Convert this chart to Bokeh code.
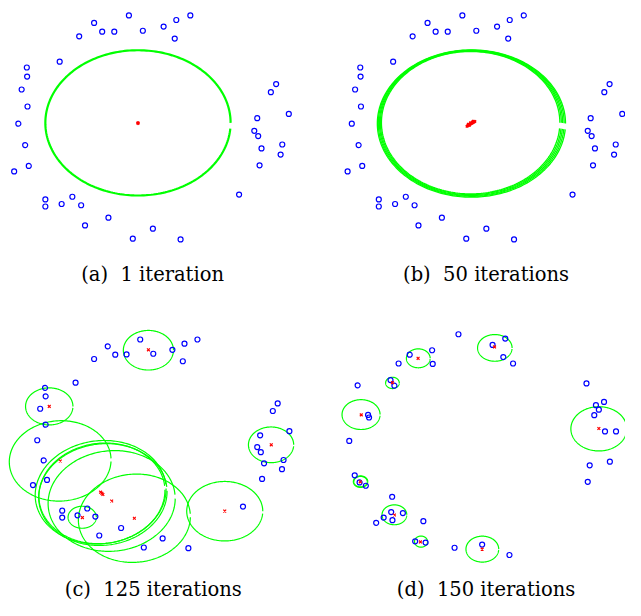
import numpy as np
from bokeh.plotting import figure
from bokeh.models import Range1d, Label
from bokeh.layouts import column, row
from bokeh.embed import file_html
from bokeh.resources import INLINE

# ---------------- data (image units, y downward) -------------
# panels (a) and (b): the same 40 points
ab_x = [131.7, 194.7, 96.0, 180.3, 167.3, 104.3, 116.7, 146.0, 80.7, 178.7,
        60.7, 27.0, 27.3, 21.7, 27.7, 18.3, 25.3, 29.0, 14.0,
        282.7, 277.3, 295.7, 263.3, 260.3, 264.3, 289.0, 267.7, 287.3, 265.7, 244.7,
        46.0, 46.0, 73.7, 62.7, 82.7, 110.7, 86.7, 156.3, 135.7, 184.7]
ab_y = [15.3, 15.3, 23.0, 20.0, 26.7, 32.0, 32.0, 31.0, 36.7, 39.0,
        62.7, 68.7, 78.0, 91.3, 108.7, 126.3, 148.3, 169.7, 175.3,
        85.7, 94.0, 116.3, 120.7, 133.7, 139.0, 147.7, 151.7, 158.0, 169.0, 199.0,
        204.0, 211.3, 201.3, 208.7, 210.0, 222.7, 230.7, 234.0, 244.3, 245.0]

# (a) 1 iteration: one centre and one ellipse (cx, cy, rx, ry, angle)
a_cx = [141.0]
a_cy = [125.7]
a_ell = [(141.0, 125.5, 95.0, 74.5, 0.0)]

# (b) 50 iterations: drifting centres and a band of ellipses
b_cx = [136.5, 137.5, 138.5, 139.0, 139.5, 140.5, 141.5, 142.0, 142.5, 143.5, 144.5,
        137.8, 140.0, 142.8]
b_cy = [129.0, 128.2, 127.6, 128.0, 127.0, 126.4, 125.9, 124.8, 125.2, 124.6, 124.0,
        127.0, 125.5, 123.8]
b_ell = [(140.2, 125.3, 91.5, 73.0, 0.0),
         (140.4, 125.5, 92.8, 73.6, 0.0),
         (140.6, 125.7, 94.0, 74.3, 0.0),
         (140.8, 125.9, 95.3, 74.9, 0.0),
         (141.0, 126.2, 96.5, 75.5, 0.0)]

# (c) 125 iterations
c_x = [143.3, 202.0, 110.0, 188.7, 176.3, 117.7, 129.3, 156.7, 96.0, 187.0,
       77.0, 45.7, 46.3, 40.7, 46.3, 37.7, 44.3, 47.7, 33.3,
       284.3, 279.3, 296.3, 266.3, 263.3, 267.0, 290.3, 270.3, 288.7, 268.3, 248.7,
       63.3, 63.3, 89.0, 79.0, 97.3, 123.7, 101.3, 166.3, 147.0, 192.7]
c_y = [347.7, 347.7, 354.7, 352.0, 358.3, 363.3, 363.0, 362.3, 367.7, 370.0,
       392.0, 397.3, 406.0, 418.7, 435.0, 451.0, 471.7, 491.7, 497.0,
       413.3, 421.0, 441.7, 446.0, 458.0, 463.3, 471.3, 474.7, 480.7, 490.7, 519.0,
       523.3, 530.3, 521.0, 528.0, 529.3, 541.0, 548.7, 551.7, 561.0, 561.7]
c_cx = [151.7, 50.0, 61.3, 277.7, 102.7, 105.0, 104.0, 114.0, 137.3, 84.0, 230.0]
c_cy = [358.3, 416.3, 472.3, 455.7, 504.3, 506.7, 505.5, 513.3, 531.0, 530.3, 523.7]
c_ell = [(151.7, 358.7, 25.7, 20.3, 0.0),
         (50.0, 416.3, 24.3, 19.0, 0.0),
         (61.2, 472.2, 52.2, 41.2, -0.05),
         (277.5, 455.7, 23.2, 18.3, 0.0),
         (102.7, 504.3, 67.3, 52.8, -0.12),
         (105.0, 506.7, 66.0, 52.0, -0.12),
         (104.0, 505.5, 64.8, 51.4, -0.12),
         (114.0, 513.3, 65.3, 51.5, -0.10),
         (137.3, 531.0, 57.5, 45.2, -0.08),
         (83.8, 530.0, 14.5, 11.3, 0.0),
         (230.0, 523.8, 39.0, 30.5, 0.0)]

# (d) 150 iterations
d_x = [469.7, 517.7, 504.7, 442.7, 419.7, 515.7, 443.3, 408.3, 525.7, 400.0,
       404.0, 366.3, 601.0, 619.0, 610.7, 613.7, 609.0, 377.0, 378.0, 620.0,
       631.3, 357.7, 625.0, 604.3, 602.3, 363.3, 368.3, 374.7, 401.7, 400.7,
       412.7, 393.0, 402.0, 385.3, 433.7, 425.3, 436.0, 465.7, 494.0, 522.0]
d_y = [342.3, 346.7, 353.3, 358.7, 363.3, 365.7, 372.7, 372.3, 372.3, 389.3,
       395.0, 394.7, 392.7, 411.7, 415.0, 419.7, 425.3, 425.0, 427.7, 442.0,
       442.0, 451.7, 473.0, 476.7, 493.7, 487.0, 494.3, 497.7, 509.0, 524.7,
       525.7, 530.3, 533.0, 535.7, 534.0, 554.7, 556.0, 561.3, 558.0, 568.7]
d_cx = [506.7, 428.3, 402.0, 370.0, 613.7, 369.0, 404.0, 430.7, 494.0]
d_cy = [355.3, 367.0, 392.0, 425.0, 439.0, 493.7, 527.7, 555.3, 562.7]
d_ell = [(507.0, 356.3, 17.7, 13.7, 0.0),
         (428.5, 367.0, 12.2, 9.7, 0.0),
         (402.0, 392.2, 7.0, 5.8, 0.0),
         (369.8, 424.7, 19.5, 15.3, 0.0),
         (613.7, 439.3, 28.7, 22.7, 0.0),
         (369.3, 493.5, 7.4, 5.9, 0.0),
         (369.3, 493.5, 6.9, 5.4, 0.0),
         (404.0, 527.5, 12.7, 10.2, 0.0),
         (431.3, 555.0, 6.7, 5.7, 0.0),
         (494.2, 562.7, 16.8, 13.3, 0.0)]

captions = ["(a)\u00a0 1 iteration", "(b)\u00a0 50 iterations",
            "(c)\u00a0 125 iterations", "(d)\u00a0 150 iterations"]

# ---------------- layout ----------------
S = 0.975                  # reference -> page scale (fits the 625x600 area)
LEFT_W, RIGHT_W = 312, 313
TOP_H, BOT_H = 298, 302
GREEN = "#00ff00"
BLUE = "#0000ff"
RED = "#ff0000"
FONT = "DejaVu Serif"


def make_fig(w, h, x0, y0):
    p = figure(width=w, height=h, output_backend="svg", toolbar_location=None,
               x_range=Range1d(x0, x0 + w / S), y_range=Range1d(y0 + h / S, y0),
               x_axis_location=None, y_axis_location=None, min_border=0)
    p.grid.visible = False
    p.outline_line_color = None
    p.background_fill_color = "white"
    p.border_fill_color = "white"
    return p


def ellipse_paths(ells, gap=0.08):
    xs, ys = [], []
    t = np.linspace(gap, 2 * np.pi, 240)
    for cx, cy, rx, ry, ang in ells:
        ex = rx * np.cos(t)
        ey = ry * np.sin(t)
        xs.append(list(cx + ex * np.cos(ang) - ey * np.sin(ang)))
        ys.append(list(cy + ex * np.sin(ang) + ey * np.cos(ang)))
    return xs, ys


def panel(p, px, py, cx, cy, ells, lw, caption, cap_x, cap_y, xsize=4, xlw=1.2):
    xs, ys = ellipse_paths(ells)
    p.multi_line(xs, ys, line_color=GREEN, line_width=lw)
    p.scatter(px, py, marker="circle", size=5, fill_color=None,
              line_color=BLUE, line_width=1.2)
    p.scatter(cx, cy, marker="x", size=xsize, line_color=RED, line_width=xlw)
    p.add_layout(Label(x=cap_x, y=cap_y, text=caption, text_align="center",
                       text_baseline="middle", text_font=FONT,
                       text_font_size="19.5px", text_color="black"))


y_mid = TOP_H / S
pa = make_fig(LEFT_W, TOP_H, 0, 0)
panel(pa, ab_x, ab_y, a_cx, a_cy, a_ell, 2.2, captions[0], 156, 281.5,
      xsize=4, xlw=2.0)

x_mid = LEFT_W / S
pb = make_fig(RIGHT_W, TOP_H, x_mid - 342, 0)
panel(pb, ab_x, ab_y, b_cx, b_cy, b_ell, 1.3, captions[1], 498 - 342, 281.5,
      xsize=3.5, xlw=1.5)

pc = make_fig(LEFT_W, BOT_H, 0, y_mid)
panel(pc, c_x, c_y, c_cx, c_cy, c_ell, 1.2, captions[2], 156.7, 604.5)

pd = make_fig(RIGHT_W, BOT_H, x_mid, y_mid)
panel(pd, d_x, d_y, d_cx, d_cy, d_ell, 1.2, captions[3], 498, 604.5)

layout = column(row(pa, pb, spacing=0), row(pc, pd, spacing=0), spacing=0)
open("out.html", "w").write(file_html(layout, INLINE))
